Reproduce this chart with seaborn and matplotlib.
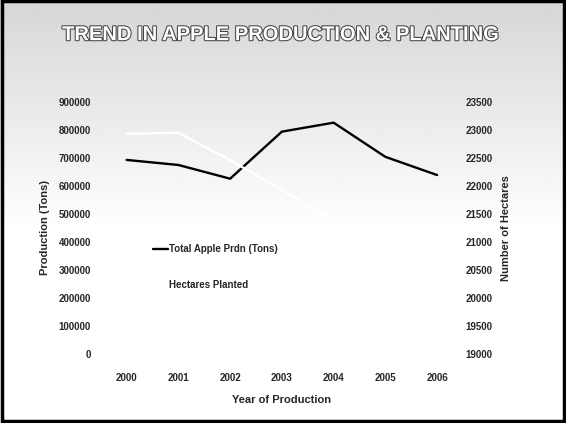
import numpy as np
import pandas as pd
import matplotlib
matplotlib.use('Agg')
import matplotlib.pyplot as plt
import matplotlib.patheffects as pe
from matplotlib.patches import Rectangle
import seaborn as sns

# 数据（从原图读取估计）
years = ['2000', '2001', '2002', '2003', '2004', '2005', '2006']
production = [693000, 675000, 626000, 794000, 826000, 704000, 639000]
hectares = [22930, 22950, 22460, 21930, 21400, 21050, 20700]
left_ticks = [0, 100000, 200000, 300000, 400000, 500000, 600000, 700000, 800000, 900000]
right_ticks = [19000, 19500, 20000, 20500, 21000, 21500, 22000, 22500, 23000, 23500]

sns.set_style('white')
plt.rcParams['font.family'] = ['Liberation Sans', 'DejaVu Sans']
plt.rcParams['font.weight'] = 'bold'

df = pd.DataFrame({'Year': years, 'Production': production, 'Hectares': hectares})

fig = plt.figure(figsize=(5.66, 4.23), dpi=100)

# 背景：顶部浅灰渐变到白色
bg = fig.add_axes([0, 0, 1, 1], zorder=-10)
grad = np.linspace(0, 1, 423)
shade = np.clip(0.84 + 0.16 * (grad / 0.55), 0, 1)
bg.imshow(np.tile(shade[:, None], (1, 10)), cmap='gray', vmin=0, vmax=1,
          aspect='auto', extent=[0, 1, 0, 1], origin='upper')
bg.axis('off')

ax = fig.add_axes([0.178, 0.163, 0.640, 0.596])
ax.patch.set_alpha(0)
sns.lineplot(data=df, x='Year', y='Production', ax=ax, color='black',
             linewidth=1.7, label='Total Apple Prdn (Tons)', legend=False)
ax.set_ylim(0, 900000)
ax.set_yticks(left_ticks)
ax.set_xlim(-0.5, 6.5)
ax.set_ylabel('Production (Tons)', fontsize=8, fontweight='bold', labelpad=6)
ax.set_xlabel('Year of Production', fontsize=8, fontweight='bold', labelpad=8)
ax.tick_params(axis='y', labelsize=7, length=0, pad=7)
ax.tick_params(axis='x', labelsize=7, length=0, pad=14)

ax2 = ax.twinx()
ax2.patch.set_alpha(0)
sns.lineplot(data=df, x='Year', y='Hectares', ax=ax2, color='white',
             linewidth=1.7, label='Hectares Planted', legend=False)
ax2.set_ylim(19000, 23500)
ax2.set_yticks(right_ticks)
ax2.set_ylabel('Number of Hectares', fontsize=8, fontweight='bold', labelpad=6)
ax2.tick_params(axis='y', labelsize=7, length=0, pad=2)

for a in (ax, ax2):
    for s in a.spines.values():
        s.set_visible(False)
    a.grid(False)
    for lbl in a.get_xticklabels() + a.get_yticklabels():
        lbl.set_fontweight('bold')

h1, l1 = ax.get_legend_handles_labels()
h2, l2 = ax2.get_legend_handles_labels()
leg = ax.legend(h1 + h2, l1 + l2, loc='upper left', bbox_to_anchor=(0.12, 0.47),
                frameon=False, handlelength=1.5, handletextpad=0.2,
                labelspacing=2.6, prop={'weight': 'bold', 'size': 7})

fig.text(0.497, 0.918, 'TREND IN APPLE PRODUCTION & PLANTING', ha='center', va='center',
         fontsize=14.5, fontweight='bold', color='white',
         path_effects=[pe.withStroke(linewidth=1.5, foreground='#444444')])

fig.patches.append(Rectangle((0.003, 0.004), 0.993, 0.994, transform=fig.transFigure,
                             fill=False, edgecolor='black', linewidth=2.5))

fig.savefig('out.png', dpi=100)
plt.close()
